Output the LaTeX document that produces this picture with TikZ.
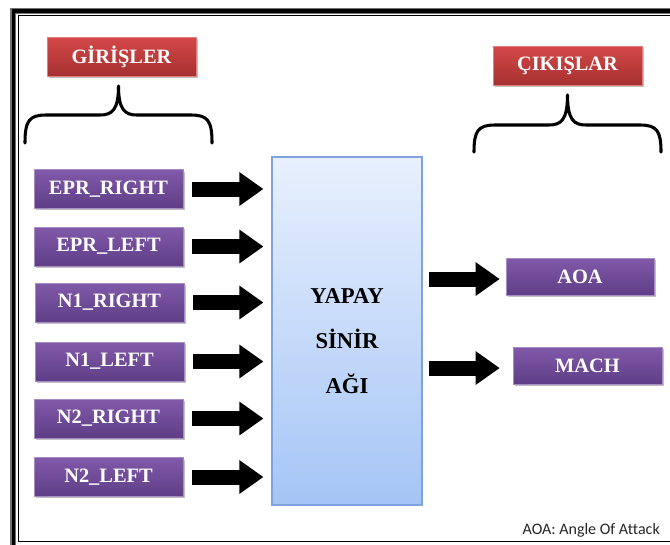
\documentclass[tikz,border=0pt]{standalone}
\usepackage{fontspec}
\setmainfont{Liberation Serif}[BoldFont={Liberation Serif Bold}]
\newfontfamily\tnr{Liberation Serif}[BoldFont={Liberation Serif Bold}]
\newfontfamily\capfont{Carlito}[Ligatures=CommonOff]
\usetikzlibrary{arrows.meta,shadows}
\definecolor{purpT}{HTML}{8159A9}
\definecolor{purpB}{HTML}{5E3E86}
\definecolor{redT}{HTML}{D44848}
\definecolor{redB}{HTML}{A63030}
\definecolor{nnT}{HTML}{E8F0FD}
\definecolor{nnB}{HTML}{A5C5F6}
\definecolor{nnD}{HTML}{7FA3DC}
\tikzset{
  boxshadow/.style={drop shadow={shadow xshift=1.2pt,shadow yshift=-1.5pt,opacity=0.35,fill=black!70}},
  inbox/.style={boxshadow,top color=purpT,bottom color=purpB,draw=purpT!70!white,line width=0.4pt,
    minimum width=111.75pt,minimum height=29pt,inner sep=0pt,text=white,font=\tnr\bfseries\fontsize{15.3pt}{17pt}\selectfont},
  titlebox/.style={boxshadow,top color=redT,bottom color=redB,draw=redT!70!white,line width=0.4pt,
    minimum width=111.75pt,minimum height=29.25pt,inner sep=0pt,text=white,font=\tnr\bfseries\fontsize{15.3pt}{17pt}\selectfont},
  nnbox/.style={top color=nnT,bottom color=nnB,draw=nnD,line width=0.8pt,
    minimum width=112.5pt,minimum height=261pt,inner sep=0pt},
  nntxt/.style={align=center,font=\tnr\bfseries\fontsize{17pt}{33.75pt}\selectfont,text=black},
  bigarrow/.style={line width=11.25pt,line cap=butt,-{Triangle[length=18pt,width=24pt]},draw=black},
  bracepath/.style={line width=2.3pt,line cap=round,line join=round,draw=black},
}
\begin{document}
\begin{tikzpicture}[x=0.75pt,y=-0.75pt]
\useasboundingbox (0,0) rectangle (670,544);
\fill[white] (0,0) rectangle (670,544);
\begin{scope}
\clip (0,0) rectangle (670,544);
\draw[line width=4.5pt,black!55] (12.5,10.5) rectangle (720,580);
\draw[line width=2.8pt,black] (13.5,11) rectangle (720,580);
\draw[line width=1.1pt,black] (18.5,15.5) rectangle (720,541.5);
\end{scope}

% titles
\node[titlebox] (gir) at (121.5,56.5) {GİRİŞLER};
\node[titlebox] (cik) at (567.5,65.5) {ÇIKIŞLAR};

% braces
\coordinate (lbtip) at (118.5,86);
\coordinate (rbtip) at (567.5,95);
\draw[bracepath] (25,143) .. controls (25,121) and (29,115) .. (46,115) -- (100,115)
  .. controls (112,115) and (118.5,110) .. (lbtip)
  .. controls (118.5,110) and (125,115) .. (137,115) -- (191,115)
  .. controls (208,115) and (212,121) .. (212,143);
\draw[bracepath] (474,152) .. controls (474,131) and (478,125) .. (495,125) -- (549,125)
  .. controls (561,125) and (567.5,120) .. (rbtip)
  .. controls (567.5,120) and (574,125) .. (586,125) -- (640,125)
  .. controls (657,125) and (661,131) .. (661,152);

% network box
\node[nnbox] (nn) at (347,331) {};
\node[nntxt] (nnt) at (347,341) {YAPAY\\SİNİR\\AĞI};

% inputs
\node[inbox] (i1) at (108.5,189) {EPR\_RIGHT};
\node[inbox] (i2) at (108.5,246.5) {EPR\_LEFT};
\node[inbox] (i3) at (109.5,302.5) {N1\_RIGHT};
\node[inbox] (i4) at (109.5,361.5) {N1\_LEFT};
\node[inbox] (i5) at (108.5,418.5) {N2\_RIGHT};
\node[inbox] (i6) at (108.5,477) {N2\_LEFT};

\foreach \i in {i1,i2,i3,i4,i5,i6}{
  \draw[bigarrow] ([xshift=6.75pt]\i.east) -- ([xshift=-6pt]\i.east -| nn.west);
}

% outputs
\node[inbox,minimum width=111pt,minimum height=27.75pt] (aoa) at (580,276.5) {AOA};
\node[inbox,minimum width=111.75pt,minimum height=27.75pt] (mach) at (587.5,365.5) {MACH};
\draw[bigarrow] ([xshift=4.5pt,yshift=-1.9pt]nn.east |- aoa.west) -- ([xshift=-4.5pt,yshift=-1.9pt]aoa.west);
\draw[bigarrow] ([xshift=4.5pt,yshift=-1.9pt]nn.east |- mach.west) -- ([xshift=-9.75pt,yshift=-1.9pt]mach.west);

% caption
\node[anchor=base east,inner sep=0pt,text=black!85,font=\capfont\fontsize{12pt}{14pt}\selectfont] (cap) at (660,534) {AOA: Angle Of Attack};
\end{tikzpicture}
\end{document}
